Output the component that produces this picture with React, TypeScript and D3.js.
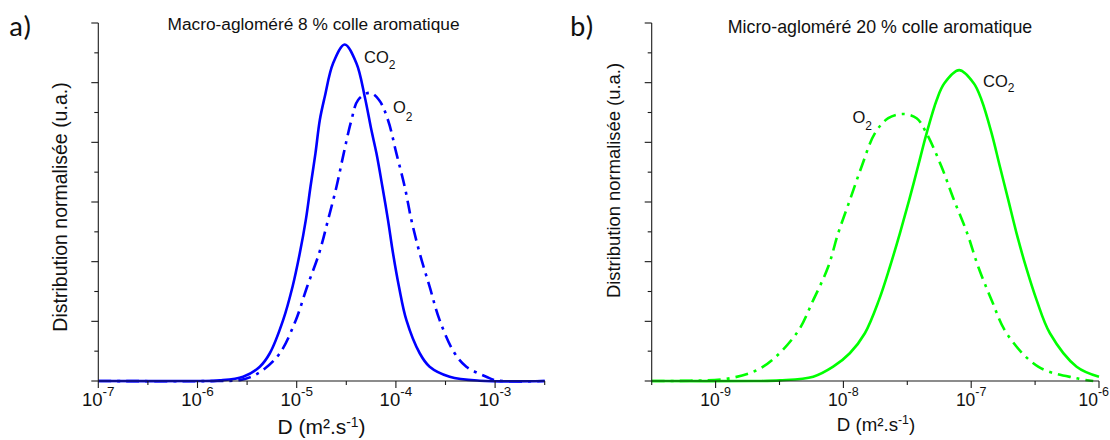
import React from 'react';
import * as d3 from 'd3';

// ---------- text ----------
const leftTitle = 'Macro-agloméré 8 % colle aromatique';
const rightTitle = 'Micro-agloméré 20 % colle aromatique';
const yLabelText = 'Distribution normalisée (u.a.)';
const xLabelMain = 'D (m².s';
const xLabelSup = '-1';
const panelLetters = ['a)', 'b)'];
const speciesCO2 = 'CO';
const speciesO2 = 'O';
const speciesSub = '2';

// ---------- axes ----------
const leftLogDomain = [-7, -2.5];
const rightLogDomain = [-9.5, -6];
const yDomain = [0, 1.2];
const yTickValues = [0, 0.1, 0.2, 0.3, 0.4, 0.5, 0.6, 0.7, 0.8, 0.9, 1.0, 1.1, 1.2];

// ---------- data (log10 D, normalised distribution) ----------
const leftCO2LogD = [-7, -6.0, -5.774, -5.54, -5.372, -5.271, -5.137, -5.042, -4.969, -4.908, -4.861, -4.811, -4.767, -4.717, -4.633, -4.516, -4.398, -4.314, -4.247, -4.196, -4.136, -4.08, -4.029, -3.969, -3.894, -3.76, -3.66, -3.458, -3.156, -2.5];
const leftCO2Val = [0, 0, 0.002, 0.0144, 0.048, 0.093, 0.204, 0.316, 0.428, 0.54, 0.651, 0.763, 0.875, 0.953, 1.065, 1.128, 1.065, 0.953, 0.841, 0.763, 0.651, 0.54, 0.428, 0.316, 0.204, 0.093, 0.048, 0.0144, 0.001, 0];

const leftO2LogD = [-7, -5.8, -5.573, -5.473, -5.338, -5.17, -5.009, -4.895, -4.774, -4.684, -4.599, -4.526, -4.448, -4.381, -4.264, -4.17, -4.08, -3.995, -3.911, -3.844, -3.76, -3.66, -3.559, -3.408, -3.29, -3.089, -2.988, -2.5];
const leftO2Val = [0, 0, 0.003, 0.012, 0.037, 0.093, 0.204, 0.316, 0.428, 0.54, 0.651, 0.763, 0.875, 0.942, 0.966, 0.942, 0.875, 0.763, 0.651, 0.54, 0.428, 0.316, 0.204, 0.093, 0.048, 0.0144, 0.002, 0];

const rightCO2LogD = [-9.5, -8.7, -8.497, -8.236, -8.08, -7.95, -7.832, -7.722, -7.636, -7.558, -7.485, -7.417, -7.349, -7.27, -7.21, -7.094, -6.98, -6.919, -6.84, -6.775, -6.71, -6.645, -6.572, -6.488, -6.384, -6.175, -6.0];
const rightCO2Val = [0, 0, 0.002, 0.0144, 0.048, 0.093, 0.16, 0.271, 0.383, 0.495, 0.607, 0.718, 0.83, 0.942, 0.998, 1.042, 0.998, 0.942, 0.83, 0.718, 0.607, 0.495, 0.383, 0.271, 0.16, 0.048, 0.0144];

const rightO2LogD = [-9.5, -9.2, -8.888, -8.628, -8.366, -8.236, -8.119, -8.041, -7.949, -7.858, -7.754, -7.649, -7.532, -7.427, -7.349, -7.232, -7.135, -7.031, -6.945, -6.84, -6.723, -6.476, -6.175, -6.045];
const rightO2Val = [0, 0.001, 0.009, 0.048, 0.16, 0.271, 0.383, 0.495, 0.607, 0.718, 0.83, 0.881, 0.895, 0.881, 0.83, 0.718, 0.607, 0.495, 0.383, 0.271, 0.16, 0.048, 0.009, 0];

const FONT = "'Liberation Sans', Arial, Helvetica, sans-serif";
const LETTER_FONT = "Carlito, Calibri, Lato, 'Liberation Sans', sans-serif";

type Series = { logD: number[]; val: number[]; dashed: boolean };

type PanelProps = {
  xRange: [number, number];
  logDomain: number[];
  color: string;
  series: Series[];
  title: string;
  titleX: number;
  titleY: number;
  titleSize: number;
  letter: string;
  letterX: number;
  letterY: number;
  yLabelX: number;
  yLabelY: number;
  yLabelSize: number;
  xLabelX: number;
  xLabelY: number;
  xLabelSize: number;
  tickSize: number;
  supSize: number;
  co2Pos: [number, number];
  o2Pos: [number, number];
  co2SubDy: number;
  o2SubDy: number;
};

const Y0 = 381;
const Y1 = 23;
const W = 1110;

function Panel(p: PanelProps) {
  const x = d3
    .scaleLog()
    .domain([Math.pow(10, p.logDomain[0]), Math.pow(10, p.logDomain[1])])
    .range(p.xRange);
  const y = d3.scaleLinear().domain(yDomain).range([Y0, Y1]);

  const majors = d3.range(Math.ceil(p.logDomain[0]), Math.floor(p.logDomain[1]) + 1);
  const minors = d3
    .range(Math.floor(p.logDomain[0]) - 0.5, p.logDomain[1] + 0.01, 1)
    .filter((e) => e >= p.logDomain[0] - 1e-9 && e <= p.logDomain[1] + 1e-9);

  const line = d3
    .line<[number, number]>()
    .x((d) => x(Math.pow(10, d[0])))
    .y((d) => Math.min(Y0, y(d[1])))
    .curve(d3.curveCatmullRom.alpha(0.5));

  const axisColor = '#1a1a1a';
  const labelHalf = p.tickSize * 0.56 + p.supSize * 0.45;
  return (
    <g>
      {/* curves */}
      {p.series.map((s, i) => {
        const pts = s.logD.map((l, k) => [l, s.val[k]] as [number, number]);
        return (
          <path
            key={i}
            d={line(pts) || ''}
            fill="none"
            stroke={p.color}
            strokeWidth={2.6}
            strokeDasharray={s.dashed ? '13,6,3,6' : undefined}
            strokeLinejoin="round"
          />
        );
      })}
      {/* axes */}
      <line x1={p.xRange[0]} x2={p.xRange[1]} y1={Y0} y2={Y0} stroke={axisColor} strokeWidth={1.1} />
      <line x1={p.xRange[0]} x2={p.xRange[0]} y1={Y0} y2={Y1} stroke={axisColor} strokeWidth={1.1} />
      {majors.map((e) => (
        <line key={'M' + e} x1={x(Math.pow(10, e))} x2={x(Math.pow(10, e))} y1={Y0} y2={Y0 + 7} stroke={axisColor} strokeWidth={1.1} />
      ))}
      {minors.map((e) => (
        <line key={'m' + e} x1={x(Math.pow(10, e))} x2={x(Math.pow(10, e))} y1={Y0} y2={Y0 + 4} stroke={axisColor} strokeWidth={1.1} />
      ))}
      {yTickValues.map((v, i) => (
        <line
          key={'y' + i}
          x1={p.xRange[0]}
          x2={p.xRange[0] - (i % 2 === 0 ? 7 : 4)}
          y1={y(v)}
          y2={y(v)}
          stroke={axisColor}
          strokeWidth={1.1}
        />
      ))}
      {/* tick labels */}
      {majors.map((e) => {
        const cx = x(Math.pow(10, e));
        const overflow = cx + labelHalf > W - 1;
        return (
          <text
            key={'t' + e}
            x={overflow ? W - 1 : cx}
            y={405.5}
            textAnchor={overflow ? 'end' : 'middle'}
            fontFamily={FONT}
            fontSize={p.tickSize}
            fill="#111"
          >
            10
            <tspan fontSize={p.supSize} dy={-9.5}>
              {String(e)}
            </tspan>
          </text>
        );
      })}
      {/* x label */}
      <text x={p.xLabelX} y={p.xLabelY} textAnchor="middle" fontFamily={FONT} fontSize={p.xLabelSize} fill="#111">
        {xLabelMain}
        <tspan fontSize={p.xLabelSize * 0.66} dy={-7.5}>
          {xLabelSup}
        </tspan>
        <tspan dy={7.5}>)</tspan>
      </text>
      {/* y label */}
      <text
        transform={`translate(${p.yLabelX},${p.yLabelY}) rotate(-90)`}
        textAnchor="middle"
        fontFamily={FONT}
        fontSize={p.yLabelSize}
        fill="#111"
      >
        {yLabelText}
      </text>
      {/* title */}
      <text x={p.titleX} y={p.titleY} textAnchor="middle" fontFamily={FONT} fontSize={p.titleSize} fill="#111">
        {p.title}
      </text>
      {/* panel letter */}
      <text x={p.letterX} y={p.letterY} fontFamily={LETTER_FONT} fontSize={29} fill="#111">
        {p.letter}
      </text>
      {/* species labels */}
      <text x={p.co2Pos[0]} y={p.co2Pos[1]} fontFamily={FONT} fontSize={16.5} fill="#111">
        {speciesCO2}
        <tspan fontSize={12} dy={p.co2SubDy}>
          {speciesSub}
        </tspan>
      </text>
      <text x={p.o2Pos[0]} y={p.o2Pos[1]} fontFamily={FONT} fontSize={16.5} fill="#111">
        {speciesO2}
        <tspan fontSize={12} dy={p.o2SubDy}>
          {speciesSub}
        </tspan>
      </text>
    </g>
  );
}

export default function App() {
  return (
    <svg
      width={1110}
      height={440}
      viewBox="0 0 1110 440"
      style={{ position: 'absolute', left: 0, top: 0, background: '#fff' }}
    >
      <rect x={0} y={0} width={1110} height={440} fill="#fff" />
      <Panel
        xRange={[98.3, 544.7]}
        logDomain={leftLogDomain}
        color="#0000ff"
        series={[
          { logD: leftO2LogD, val: leftO2Val, dashed: true },
          { logD: leftCO2LogD, val: leftCO2Val, dashed: false },
        ]}
        title={leftTitle}
        titleX={313.5}
        titleY={30}
        titleSize={17.3}
        letter={panelLetters[0]}
        letterX={9}
        letterY={36}
        yLabelX={67}
        yLabelY={207}
        yLabelSize={19.5}
        xLabelX={321.5}
        xLabelY={434}
        xLabelSize={21}
        tickSize={18.5}
        supSize={13.5}
        co2Pos={[364, 63.3]}
        o2Pos={[393, 113.3]}
        co2SubDy={5.5}
        o2SubDy={7.5}
      />
      <Panel
        xRange={[651.7, 1099]}
        logDomain={rightLogDomain}
        color="#00ff00"
        series={[
          { logD: rightO2LogD, val: rightO2Val, dashed: true },
          { logD: rightCO2LogD, val: rightCO2Val, dashed: false },
        ]}
        title={rightTitle}
        titleX={880}
        titleY={33}
        titleSize={17.8}
        letter={panelLetters[1]}
        letterX={570}
        letterY={36}
        yLabelX={620}
        yLabelY={180.5}
        yLabelSize={18.4}
        xLabelX={876}
        xLabelY={431}
        xLabelSize={18.7}
        tickSize={17.5}
        supSize={12.5}
        co2Pos={[983, 86.7]}
        o2Pos={[852.5, 123.3]}
        co2SubDy={5}
        o2SubDy={7}
      />
    </svg>
  );
}
